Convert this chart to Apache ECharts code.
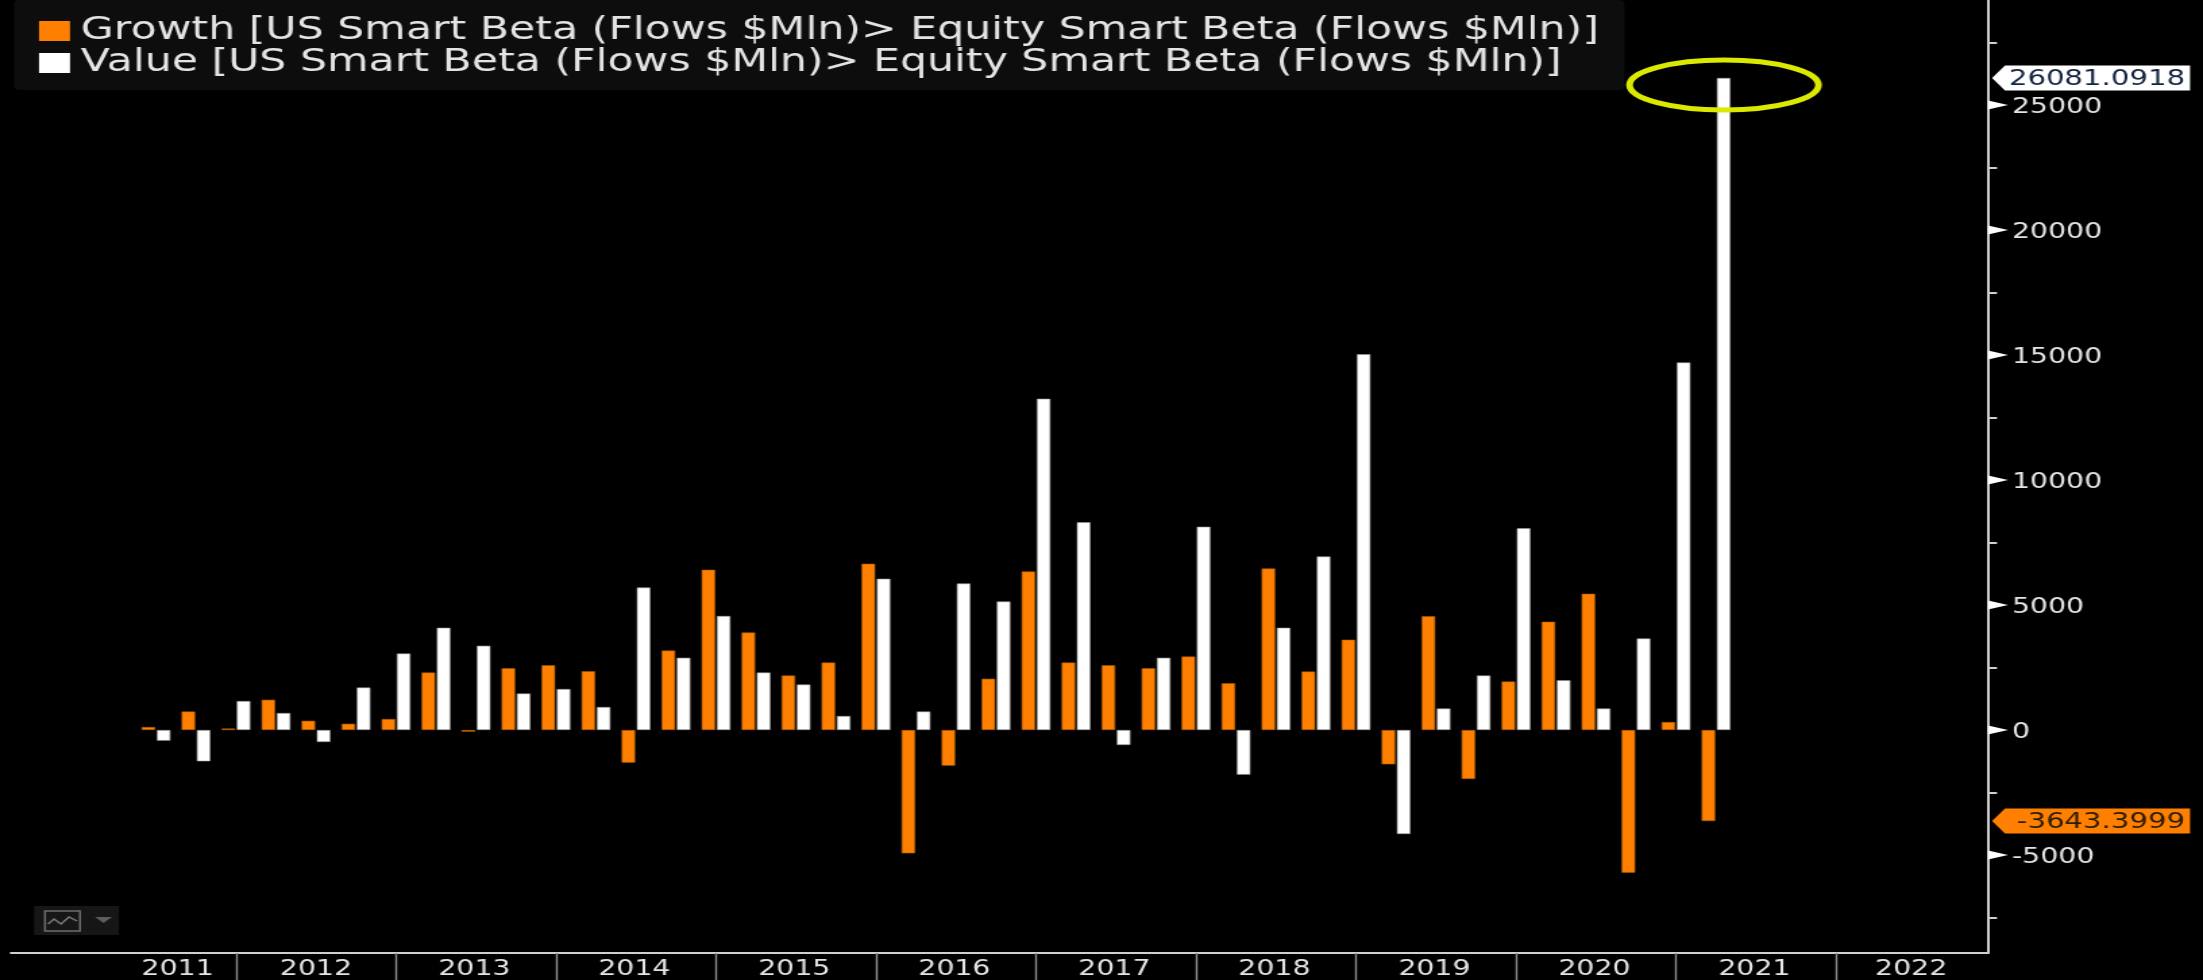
<!DOCTYPE html>
<html>
<head>
<meta charset="utf-8">
<style>
html,body{margin:0;padding:0;background:#000;overflow:hidden;width:2203px;height:980px}
#chart{width:1632px;height:980px;transform:scaleX(1.34988);transform-origin:0 0}
</style>
<script src="https://cdn.jsdelivr.net/npm/echarts@6/dist/echarts.min.js"></script>
</head>
<body>
<div id="chart"></div>
<script>
var quarters = ['2011-Q2','2011-Q3','2011-Q4',
 '2012-Q1','2012-Q2','2012-Q3','2012-Q4',
 '2013-Q1','2013-Q2','2013-Q3','2013-Q4',
 '2014-Q1','2014-Q2','2014-Q3','2014-Q4',
 '2015-Q1','2015-Q2','2015-Q3','2015-Q4',
 '2016-Q1','2016-Q2','2016-Q3','2016-Q4',
 '2017-Q1','2017-Q2','2017-Q3','2017-Q4',
 '2018-Q1','2018-Q2','2018-Q3','2018-Q4',
 '2019-Q1','2019-Q2','2019-Q3','2019-Q4',
 '2020-Q1','2020-Q2','2020-Q3','2020-Q4',
 '2021-Q1'];
var growth = [120,740,60,1210,370,250,440,2300,-67,2470,2590,2350,-1307,3180,6410,3900,2180,2700,6650,-4933,-1427,2050,6340,2700,2590,2470,2940,1870,6460,2340,3610,-1373,4550,-1960,1940,4330,5450,-5707,320,-3643.3999];
var value = [-427,-1253,1160,680,-480,1700,3060,4090,3370,1460,1640,920,5700,2890,4560,2300,1820,560,6050,740,5860,5140,13250,8310,-600,2890,8130,-1787,4090,6940,15030,-4160,860,2180,8070,1990,860,3660,14700,26081.0918];
var growthName = 'Growth [US Smart Beta (Flows $Mln)> Equity Smart Beta (Flows $Mln)]';
var valueName = 'Value [US Smart Beta (Flows $Mln)> Equity Smart Beta (Flows $Mln)]';
var yLabels = [-5000,0,5000,10000,15000,20000,25000];
var yMinorTicks = [-7500,-2500,2500,7500,12500,17500,22500,27500];
var yearTicks = [2012,2013,2014,2015,2016,2017,2018,2019,2020,2021,2022];
var yearLabels = ['2011','2012','2013','2014','2015','2016','2017','2018','2019','2020','2021','2022'];
var yearLabelPos = [2011.635,2012.5,2013.49,2014.49,2015.49,2016.49,2017.49,2018.49,2019.49,2020.49,2021.49,2022.47];

var k = 2203/1632;
var xMin = 2010.594, xMax = 2022.95, yMin = -8920, yMax = 29200;
function qx(q){ var p=q.split('-Q'); return +p[0] + (+p[1])/4; }
var FONT = '"DejaVu Sans"';
var ORANGE = '#ff8000';
var LABEL = '#e4e4e4';

function pairs(arr){ return arr.map(function(v,i){ return [qx(quarters[i]), v]; }); }

function tag(name, v, bg, fg){
  return {
    type:'custom', name:name, coordinateSystem:'cartesian2d', silent:true, z:5, clip:false,
    data:[[xMax, v]], legendHoverLink:false,
    renderItem:function(p,api){
      var c = api.coord([api.value(0), api.value(1)]);
      var h = 12.5, x0 = c[0]+4/k, tip = 13/k, w = 198/k;
      return {type:'group', children:[
        {type:'polygon', shape:{points:[[x0,c[1]],[x0+tip,c[1]-h],[x0+w,c[1]-h],[x0+w,c[1]+h],[x0+tip,c[1]+h]]}, style:{fill:bg}},
        {type:'text', style:{x:x0+w-5/k, y:c[1]+1, text:v.toFixed(4), fill:fg, font:'21.6px '+FONT, align:'right', verticalAlign:'middle'}}
      ]};
    }
  };
}

var chart = echarts.init(document.getElementById('chart'));
chart.setOption({
  animation:false,
  backgroundColor:'#000',
  legend:{
    show:true, orient:'vertical', left:14/k, top:0,
    padding:[15,19,11,25/k],
    backgroundColor:'#0d0d0d', borderRadius:4,
    itemWidth:31/k, itemHeight:20, itemGap:0, icon:'rect',
    selectedMode:false,
    data:[{name:growthName,itemStyle:{borderWidth:0}},{name:valueName,itemStyle:{borderWidth:0}}],
    textStyle:{color:LABEL, fontFamily:FONT, fontSize:31.6, padding:[2,0,0,3], lineHeight:30}
  },
  grid:{left:11/k, right:(2203-1988)/k, top:0, bottom:27},
  xAxis:{
    type:'value', min:xMin, max:xMax, splitLine:{show:false},
    axisLine:{onZero:false, lineStyle:{color:'#cfcfcf',width:2}},
    axisTick:{customValues:yearTicks, length:27, lineStyle:{color:'#8c8c8c',width:1.4}},
    axisLabel:{customValues:yearLabelPos, margin:6, color:LABEL, fontFamily:FONT, fontSize:21,
      formatter:function(v){ var i=yearLabelPos.indexOf(v); return i>=0?yearLabels[i]:''; }}
  },
  yAxis:{
    type:'value', position:'right', min:yMin, max:yMax, splitLine:{show:false},
    axisLine:{show:true,onZero:false, lineStyle:{color:'#cfcfcf',width:2}},
    axisTick:{show:true,customValues:yMinorTicks, length:9/k, lineStyle:{color:'#cfcfcf',width:2}},
    axisLabel:{customValues:yLabels, margin:24/k, color:LABEL, fontFamily:FONT, fontSize:21,
      verticalAlign:'top', lineHeight:6,
      formatter:function(v){ return String(v); }}
  },
  series:[
    {name:growthName, type:'bar', data:pairs(growth), barWidth:13.6/k, barGap:'12%',
     itemStyle:{color:ORANGE, borderColor:'#a85a08', borderWidth:0.6}},
    {name:valueName, type:'bar', data:pairs(value), barWidth:13.6/k, barGap:'12%',
     itemStyle:{color:'#ffffff', borderColor:'#9a9a9a', borderWidth:0.6}},
    {type:'custom', name:'yTicks', coordinateSystem:'cartesian2d', silent:true, z:4, clip:false,
     data:yLabels.map(function(v){return [xMax,v];}),
     renderItem:function(p,api){
       var c = api.coord([api.value(0),api.value(1)]);
       return {type:'polygon', shape:{points:[[c[0],c[1]-4.5],[c[0]+20/k,c[1]],[c[0],c[1]+4.5]]}, style:{fill:'#ffffff'}};
     }},
    tag('tagValue', value[value.length-1], '#ffffff', '#14233f'),
    tag('tagGrowth', growth[growth.length-1], ORANGE, '#2a1c05'),
    {type:'custom', name:'highlight', coordinateSystem:'cartesian2d', silent:true, z:6, clip:false,
     data:[[qx(quarters[quarters.length-1]), value[value.length-1]]],
     renderItem:function(p,api){
       var c = api.coord([api.value(0),api.value(1)]);
       return {type:'ellipse', shape:{cx:c[0]+8/k, cy:c[1]+7, rx:94.5/k, ry:25}, style:{fill:'none', stroke:'#dbe800', lineWidth:5}};
     }}
  ],
  graphic:[{
    type:'group', left:34/k, top:906, silent:true, children:[
      {type:'rect', shape:{x:0,y:0,width:85/k,height:29}, style:{fill:'#161616'}},
      {type:'rect', shape:{x:11/k,y:5,width:35/k,height:20}, style:{fill:'none',stroke:'#6e6e6e',lineWidth:1.5}},
      {type:'polyline', shape:{points:[[14/k,18],[20/k,13],[27/k,18],[35/k,11],[43/k,15]]}, style:{fill:'none',stroke:'#7a7a7a',lineWidth:1.5}},
      {type:'polygon', shape:{points:[[61/k,11],[78/k,11],[69.5/k,17]]}, style:{fill:'#5e5e5e'}}
    ]
  }]
});
</script>
</body>
</html>
